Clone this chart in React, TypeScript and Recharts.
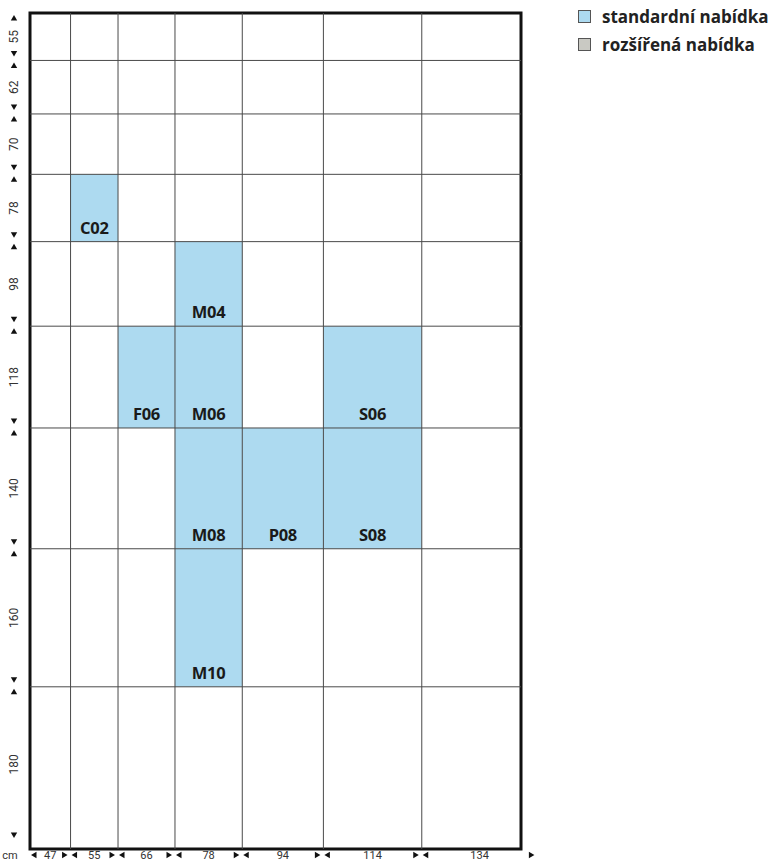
import React from "react";
import { ComposedChart, XAxis, YAxis, ReferenceArea, ReferenceLine, Legend } from "recharts";

// column widths (cm) along the bottom, row heights (cm) down the side
const COLUMN_WIDTHS = [47, 55, 66, 78, 94, 114, 134];
const ROW_HEIGHTS = [55, 62, 70, 78, 98, 118, 140, 160, 180];

// models offered: code, width, height, offer type
const MODEL_CODES = ["C02", "M04", "F06", "M06", "S06", "M08", "P08", "S08", "M10"];
const MODEL_WIDTHS = [55, 78, 66, 78, 114, 78, 94, 114, 78];
const MODEL_HEIGHTS = [78, 98, 118, 118, 118, 140, 140, 140, 160];
const MODEL_OFFER = ["std", "std", "std", "std", "std", "std", "std", "std", "std"];

const LEGEND_LABELS = ["standardní nabídka", "rozšířená nabídka"];
const LEGEND_KEYS = ["std", "ext"];

// the drawn frame stops before the last column ends
const FRAME_RIGHT = 569;
const FRAME_BOTTOM = 969;

const OFFER_COLORS: Record<string, string> = { std: "#ADDAF0", ext: "#C9C9C3" };
const LINE = "#4a4a4a";
const TEXT = "#333";
const NUM_FONT = "'Liberation Sans Narrow', 'Roboto', sans-serif";
const BOLD_FONT = "'Open Sans', 'Noto Sans', sans-serif";

const cumulative = (arr: number[]) => {
  const out = [0];
  arr.forEach((v) => out.push(out[out.length - 1] + v));
  return out;
};

const colBounds = cumulative(COLUMN_WIDTHS);
const rowBounds = cumulative(ROW_HEIGHTS);
const colMids = COLUMN_WIDTHS.map((w, i) => colBounds[i] + w / 2);
const rowMids = ROW_HEIGHTS.map((h, i) => rowBounds[i] + h / 2);

const X_TOTAL = colBounds[colBounds.length - 1];

const models = MODEL_CODES.map((code, i) => {
  const ci = COLUMN_WIDTHS.indexOf(MODEL_WIDTHS[i]);
  const ri = ROW_HEIGHTS.indexOf(MODEL_HEIGHTS[i]);
  return {
    code,
    offer: MODEL_OFFER[i],
    x1: colBounds[ci],
    x2: colBounds[ci + 1],
    y1: rowBounds[ri],
    y2: rowBounds[ri + 1],
  };
});

const tri = (cx: number, cy: number, dir: "up" | "down" | "left" | "right") => {
  const s = 3.2;
  let d = "";
  if (dir === "up") d = `M${cx - s},${cy + 2.5}L${cx + s},${cy + 2.5}L${cx},${cy - 3}Z`;
  if (dir === "down") d = `M${cx - s},${cy - 2.5}L${cx + s},${cy - 2.5}L${cx},${cy + 3}Z`;
  if (dir === "left") d = `M${cx + 2.5},${cy - s}L${cx + 2.5},${cy + s}L${cx - 3},${cy}Z`;
  if (dir === "right") d = `M${cx - 2.5},${cy - s}L${cx - 2.5},${cy + s}L${cx + 3},${cy}Z`;
  return <path d={d} fill="#111" />;
};

const YTick = (props: any) => {
  const { y, payload } = props;
  const v = payload.value;
  const cx = 14;
  const bi = rowBounds.indexOf(v);
  if (bi >= 0) {
    return (
      <g>
        {bi > 0 && tri(cx, y - 7, "down")}
        {bi < rowBounds.length - 1 && tri(cx, y + 5, "up")}
      </g>
    );
  }
  const label = ROW_HEIGHTS[rowMids.indexOf(v)];
  return (
    <text x={cx} y={y} transform={`rotate(-90 ${cx} ${y})`} textAnchor="middle" dominantBaseline="central"
      style={{ fontFamily: NUM_FONT, fontSize: 12, fill: TEXT }}>
      {label}
    </text>
  );
};

const XTick = (props: any) => {
  const { x, y, payload } = props;
  const v = payload.value;
  const cy = y + 6;
  const bi = colBounds.indexOf(v);
  if (bi >= 0) {
    return (
      <g>
        {bi === 0 && (
          <text x={x - 20} y={cy} textAnchor="middle" dominantBaseline="central"
            style={{ fontFamily: NUM_FONT, fontSize: 11, fill: TEXT }}>cm</text>
        )}
        {bi > 0 && tri(x - 6, cy, "right")}
        {bi < colBounds.length - 1 && tri(x + 4, cy, "left")}
      </g>
    );
  }
  const label = COLUMN_WIDTHS[colMids.indexOf(v)];
  return (
    <text x={x} y={cy} textAnchor="middle" dominantBaseline="central"
      style={{ fontFamily: NUM_FONT, fontSize: 11, fill: TEXT }}>
      {label}
    </text>
  );
};

const CellLabel = (props: any) => {
  const { viewBox, value } = props;
  if (!viewBox) return null;
  const { x, y, width, height } = viewBox;
  return (
    <text x={x + width / 2} y={y + height - 8} textAnchor="middle"
      style={{ fontFamily: BOLD_FONT, fontSize: 16.5, fontWeight: 700, fill: "#1a1a1a", letterSpacing: -0.3 }}>
      {value}
    </text>
  );
};

const OfferLegend = () => (
  <div style={{ display: "flex", flexDirection: "column", gap: 6 }}>
    {LEGEND_KEYS.map((k, i) => (
      <div key={k} style={{ display: "flex", alignItems: "center", gap: 11, height: 22 }}>
        <div style={{ width: 11, height: 11, background: OFFER_COLORS[k], border: "1px solid #555" }} />
        <span style={{ fontFamily: BOLD_FONT, fontSize: 17, fontWeight: 700, color: "#222", whiteSpace: "nowrap" }}>
          {LEGEND_LABELS[i]}
        </span>
      </div>
    ))}
  </div>
);

export default function App() {
  const xTicks = [...colBounds, ...colMids].sort((a, b) => a - b);
  const yTicks = [...rowBounds, ...rowMids].sort((a, b) => a - b);
  const innerCols = colBounds.slice(1, -1);
  const innerRows = rowBounds.slice(1, -1);

  return (
    <div style={{ position: "absolute", left: 0, top: 0, background: "#fff" }}>
      <ComposedChart width={774} height={861} data={[]} margin={{ top: 13, right: 236.6, bottom: 0, left: 0 }}>
        <XAxis type="number" dataKey="x" domain={[0, X_TOTAL]} ticks={xTicks} interval={0} height={12}
          axisLine={false} tickLine={false} tickSize={0} tickMargin={0} tick={<XTick />} allowDataOverflow />
        <YAxis type="number" dataKey="y" domain={[0, FRAME_BOTTOM]} reversed ticks={yTicks} interval={0} width={30}
          axisLine={false} tickLine={false} tickSize={0} tickMargin={0} tick={<YTick />} allowDataOverflow />
        {models.map((m) => (
          <ReferenceArea key={m.code} x1={m.x1} x2={m.x2} y1={m.y1} y2={m.y2}
            fill={OFFER_COLORS[m.offer]} fillOpacity={1} stroke="none" ifOverflow="visible"
            label={<CellLabel value={m.code} />} />
        ))}
        {innerCols.map((c) => (
          <ReferenceLine key={`c${c}`} x={c} stroke={LINE} strokeWidth={1} ifOverflow="visible" />
        ))}
        {innerRows.map((r) => (
          <ReferenceLine key={`r${r}`} stroke={LINE} strokeWidth={1} ifOverflow="visible"
            segment={[{ x: 0, y: r }, { x: FRAME_RIGHT, y: r }]} />
        ))}
        <ReferenceArea x1={0} x2={FRAME_RIGHT} y1={0} y2={FRAME_BOTTOM} fill="none" stroke="#111"
          strokeWidth={3} ifOverflow="visible" />
        <Legend layout="vertical" align="center" verticalAlign="middle" content={<OfferLegend />}
          wrapperStyle={{ top: 5, left: 578, width: 196 }} />
      </ComposedChart>
    </div>
  );
}
